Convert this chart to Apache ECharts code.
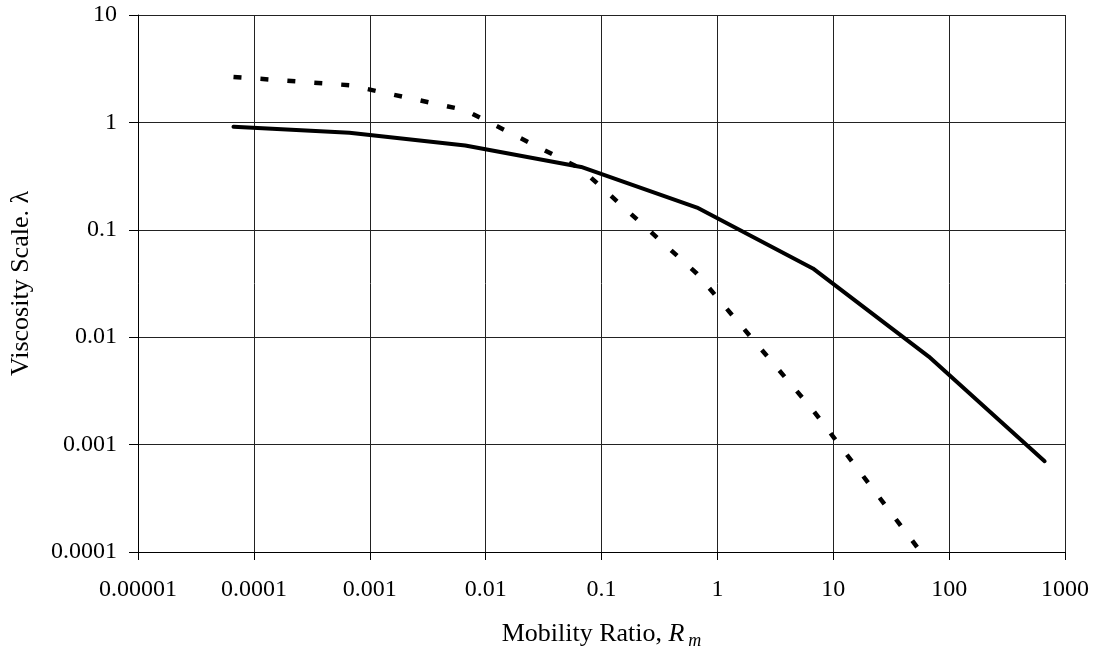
<!DOCTYPE html>
<html>
<head>
<meta charset="utf-8">
<title>Viscosity Scale vs Mobility Ratio</title>
<script src="https://cdn.jsdelivr.net/npm/echarts@6/dist/echarts.min.js"></script>
<style>
	html, body { margin: 0; padding: 0; background: #fff; }
	#chart { width: 1096px; height: 656px; }
</style>
</head>
<body>
<div id="chart"></div>
<script>
// mobility ratio at each point (shared by both curves)
var mobilityRatio = [0.0000667, 0.000667, 0.00667, 0.0667, 0.667, 6.67, 66.7, 667];
// solid curve
var solidLambda = [0.91, 0.80, 0.61, 0.385, 0.161, 0.0437, 0.0066, 0.0007];
// dashed curve (last point drops below the axis and is clipped)
var dashedLambda = [2.65, 2.22, 1.30, 0.37, 0.039, 0.0021, 0.00008];

var xTickLabels = ['0.00001', '0.0001', '0.001', '0.01', '0.1', '1', '10', '100', '1000'];
var yTickLabels = ['0.0001', '0.001', '0.01', '0.1', '1', '10'];

function pairs(xs, ys) {
	var out = [];
	for (var i = 0; i < ys.length; i++) {
		out.push([xs[i], ys[i]]);
	}
	return out;
}

function tickText(list, minExp) {
	return function (v) {
		var k = Math.round(Math.log(v) / Math.LN10) - minExp;
		return list[k] !== undefined ? list[k] : '';
	};
}

var font = '"Liberation Serif", "Times New Roman", serif';

var option = {
	backgroundColor: '#fff',
	animation: false,
	grid: {
		left: 138,
		right: 31,
		top: 15,
		bottom: 104,
		outerBoundsMode: 'none'
	},
	xAxis: {
		type: 'log',
		logBase: 10,
		min: 0.00001,
		max: 1000,
		interval: 1,
		name: 'Mobility Ratio, {i|R}{sub|m}',
		nameLocation: 'middle',
		nameGap: 66,
		nameTextStyle: {
			fontFamily: font,
			fontSize: 26,
			color: '#000',
			rich: {
				i: { fontFamily: font, fontSize: 26, fontStyle: 'italic', color: '#000' },
				sub: { fontFamily: font, fontSize: 18, fontStyle: 'italic', color: '#000', padding: [14, 0, 0, 4] }
			}
		},
		axisLine: { show: true, onZero: false, lineStyle: { color: '#000', width: 1 } },
		axisTick: { show: true, inside: false, length: 8, lineStyle: { color: '#000' } },
		minorTick: { show: false },
		axisLabel: {
			margin: 26,
			fontFamily: font,
			fontSize: 24,
			color: '#000',
			formatter: tickText(xTickLabels, -5)
		},
		splitLine: { show: true, lineStyle: { color: '#222', width: 1 } }
	},
	yAxis: {
		type: 'log',
		logBase: 10,
		min: 0.0001,
		max: 10,
		interval: 1,
		name: 'Viscosity Scale. λ',
		nameLocation: 'middle',
		nameRotate: 90,
		nameGap: 104,
		nameTextStyle: {
			fontFamily: font,
			fontSize: 26,
			color: '#000'
		},
		axisLine: { show: true, onZero: false, lineStyle: { color: '#000', width: 1 } },
		axisTick: { show: true, inside: false, length: 9, lineStyle: { color: '#000' } },
		minorTick: { show: false },
		axisLabel: {
			margin: 21,
			fontFamily: font,
			fontSize: 24,
			color: '#000',
			formatter: tickText(yTickLabels, -4)
		},
		splitLine: { show: true, lineStyle: { color: '#222', width: 1 } }
	},
	series: [{
		name: 'solid',
		type: 'line',
		data: pairs(mobilityRatio, solidLambda),
		showSymbol: false,
		symbol: 'none',
		clip: true,
		lineStyle: { color: '#000', width: 4, type: 'solid', cap: 'round', join: 'round' }
	}, {
		name: 'dashed',
		type: 'line',
		data: pairs(mobilityRatio, dashedLambda),
		showSymbol: false,
		symbol: 'none',
		clip: true,
		lineStyle: { color: '#000', width: 4.5, type: [8, 19], cap: 'butt' }
	}]
};

echarts.init(document.getElementById('chart'), null, { renderer: 'canvas' }).setOption(option);
</script>
</body>
</html>
